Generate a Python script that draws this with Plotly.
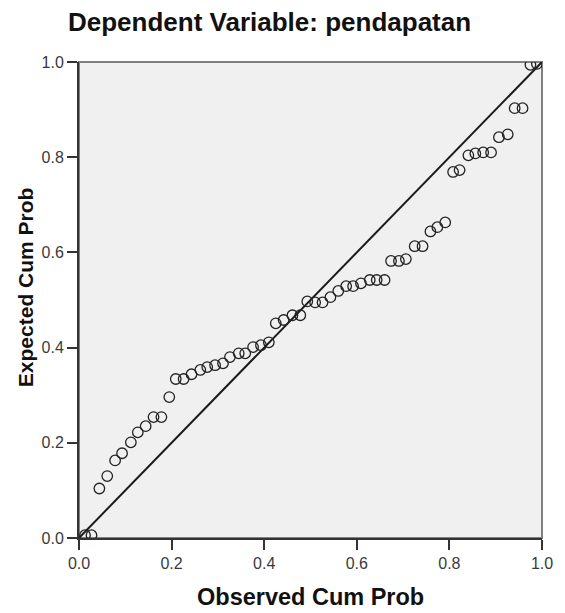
import plotly.graph_objects as go

# Observed cumulative probability (x) and expected cumulative probability (y)
observed_cum_prob = [0.013, 0.027, 0.044, 0.061, 0.078, 0.093, 0.112, 0.127, 0.144, 0.161,
                     0.178, 0.195, 0.209, 0.226, 0.243, 0.262, 0.277, 0.294, 0.311, 0.326,
                     0.345, 0.359, 0.376, 0.393, 0.410, 0.425, 0.442, 0.461, 0.478, 0.493,
                     0.510, 0.526, 0.543, 0.560, 0.577, 0.592, 0.609, 0.628, 0.643, 0.660,
                     0.674, 0.691, 0.706, 0.725, 0.742, 0.759, 0.774, 0.791, 0.808, 0.822,
                     0.841, 0.856, 0.873, 0.890, 0.907, 0.926, 0.941, 0.958, 0.975, 0.989]
expected_cum_prob = [0.006, 0.006, 0.104, 0.130, 0.163, 0.178, 0.201, 0.222, 0.235, 0.254,
                     0.254, 0.296, 0.334, 0.334, 0.344, 0.353, 0.359, 0.363, 0.367, 0.380,
                     0.388, 0.388, 0.401, 0.405, 0.411, 0.451, 0.458, 0.468, 0.468, 0.497,
                     0.495, 0.495, 0.506, 0.519, 0.529, 0.529, 0.535, 0.542, 0.542, 0.542,
                     0.582, 0.582, 0.586, 0.613, 0.613, 0.644, 0.653, 0.663, 0.769, 0.773,
                     0.804, 0.808, 0.810, 0.810, 0.842, 0.848, 0.903, 0.903, 0.994, 0.996]
ref_line = [0.0, 1.0]
tick_values = [0.0, 0.2, 0.4, 0.6, 0.8, 1.0]
tick_labels = ["0.0", "0.2", "0.4", "0.6", "0.8", "1.0"]

FONT = "Arial, Liberation Sans, sans-serif"
W, H = 557, 605  # page body adds an 8px margin

fig = go.Figure()
fig.add_trace(go.Scatter(x=ref_line, y=ref_line, mode="lines",
                         line=dict(color="#1a1a1a", width=2), hoverinfo="skip",
                         showlegend=False))
fig.add_trace(go.Scatter(x=observed_cum_prob, y=expected_cum_prob, mode="markers",
                         marker=dict(symbol="circle-open", size=10.5,
                                     color="#222222", line=dict(width=1.3)),
                         showlegend=False))

axis_common = dict(range=[0, 1], tickvals=tick_values, ticktext=tick_labels,
                   showgrid=False, zeroline=False, showline=True,
                   linecolor="#333333", linewidth=2, ticks="outside",
                   ticklen=10, tickwidth=2, tickcolor="#333333",
                   tickfont=dict(family=FONT, size=16, color="#3a3a3a"))

fig.update_layout(
    width=W, height=H,
    margin=dict(l=71, r=13, t=54, b=75),
    paper_bgcolor="white", plot_bgcolor="#f0f0f0",
    xaxis=axis_common,
    yaxis=axis_common,
    title=dict(text="<b>Dependent Variable: pendapatan</b>",
               font=dict(family=FONT, size=26, color="#111111"),
               x=60 / W, xanchor="left", xref="container",
               y=1 - 14 / H, yanchor="middle", yref="container"),
    shapes=[dict(type="rect", xref="paper", yref="paper", x0=0, y0=0, x1=1, y1=1,
                 line=dict(color="#808080", width=2), layer="below")],
    annotations=[
        dict(text="<b>Observed Cum Prob</b>", xref="paper", yref="paper",
             x=0.5, y=-(597 - 538) / 476, xanchor="center", yanchor="middle",
             showarrow=False, font=dict(family=FONT, size=23.5, color="#111111")),
        dict(text="<b>Expected Cum Prob</b>", xref="paper", yref="paper",
             x=-(79 - 24) / 473, y=(538 - 287) / 476, xanchor="center",
             yanchor="middle", textangle=-90, showarrow=False,
             font=dict(family=FONT, size=21, color="#111111")),
    ],
)

fig.write_html("out.html")
